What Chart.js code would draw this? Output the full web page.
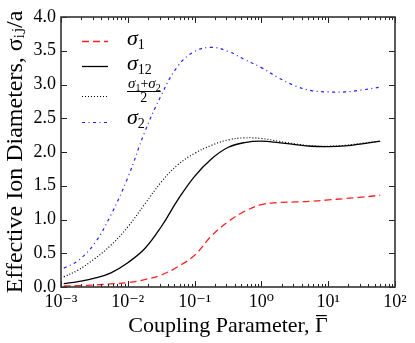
<!DOCTYPE html>
<html>
<head>
<meta charset="utf-8">
<script src="https://cdn.jsdelivr.net/npm/chart.js@4/dist/chart.umd.min.js"></script>
<style>
html, body { margin: 0; padding: 0; background: #fff; }
</style>
</head>
<body>
<canvas id="chart" width="415" height="343"></canvas>
<script>
'use strict';

// coupling parameter (x, log axis)
var gamma = [0.0011, 0.0018, 0.0032, 0.0056, 0.01, 0.018, 0.032, 0.056, 0.1, 0.18,
    0.32, 0.56, 1, 1.8, 3.2, 5.6, 10, 18, 32, 60];

// effective ion diameters
var sigma1 = [0.015, 0.02, 0.03, 0.045, 0.065, 0.11, 0.18, 0.30, 0.47, 0.76,
    0.97, 1.12, 1.22, 1.25, 1.26, 1.27, 1.29, 1.31, 1.33, 1.36];
var sigma12 = [0.05, 0.08, 0.13, 0.21, 0.36, 0.57, 0.90, 1.29, 1.64, 1.90,
    2.07, 2.14, 2.16, 2.14, 2.11, 2.085, 2.08, 2.09, 2.12, 2.16];
var sigmaMean = [0.15, 0.25, 0.42, 0.62, 0.89, 1.23, 1.56, 1.81, 1.98, 2.10,
    2.18, 2.21, 2.20, 2.16, 2.12, 2.09, 2.085, 2.10, 2.13, 2.16];
var sigma2 = [0.28, 0.39, 0.65, 1.07, 1.62, 2.30, 2.85, 3.27, 3.49, 3.55,
    3.49, 3.37, 3.25, 3.10, 2.98, 2.91, 2.89, 2.89, 2.92, 2.96];

var xTicks = [0.001, 0.01, 0.1, 1, 10, 100];
var xTickLabels = ['10\u207B\u00B3', '10\u207B\u00B2', '10\u207B\u00B9', '10\u2070', '10\u00B9', '10\u00B2'];
var yTicks = [0, 0.5, 1, 1.5, 2, 2.5, 3, 3.5, 4];

var serif = "'Liberation Serif', 'DejaVu Serif', serif";
var xTitle = 'Coupling Parameter, \u0393';
var xTitleSize = 22;

function points(ys) {
    return gamma.map(function (g, i) { return { x: g, y: ys[i] }; });
}

function line(label, ys, color, dash, width) {
    return {
        label: label,
        data: points(ys),
        borderColor: color,
        borderDash: dash,
        borderWidth: width,
        pointRadius: 0,
        fill: false,
        tension: 0.4
    };
}

// inward ticks + frame, matplotlib style
var framePlugin = {
    id: 'frame',
    afterDatasetsDraw: function (chart) {
        var ctx = chart.ctx, a = chart.chartArea;
        var xs = chart.scales.x, ys = chart.scales.y;
        ctx.save();
        ctx.strokeStyle = '#222';
        ctx.lineWidth = 1;
        ctx.beginPath();
        xTicks.forEach(function (v, k) {
            var px = Math.round(xs.getPixelForValue(v)) + 0.5;
            ctx.moveTo(px, a.bottom); ctx.lineTo(px, a.bottom - 6);
            ctx.moveTo(px, a.top); ctx.lineTo(px, a.top + 6);
            if (k < xTicks.length - 1) {
                for (var m = 2; m < 10; m++) {
                    var mx = Math.round(xs.getPixelForValue(v * m)) + 0.5;
                    ctx.moveTo(mx, a.bottom); ctx.lineTo(mx, a.bottom - 3);
                    ctx.moveTo(mx, a.top); ctx.lineTo(mx, a.top + 3);
                }
            }
        });
        yTicks.forEach(function (v) {
            var py = Math.round(ys.getPixelForValue(v)) + 0.5;
            ctx.moveTo(a.left, py); ctx.lineTo(a.left + 6, py);
            ctx.moveTo(a.right, py); ctx.lineTo(a.right - 6, py);
        });
        ctx.stroke();
        ctx.lineWidth = 1.6;
        ctx.strokeStyle = '#333';
        ctx.strokeRect(a.left, a.top, a.right - a.left, a.bottom - a.top);

        // bar over the Gamma of the x title
        ctx.font = xTitleSize + 'px ' + serif;
        var total = ctx.measureText(xTitle).width;
        var gw = ctx.measureText('\u0393').width;
        var gx = (xs.left + xs.right) / 2 + total / 2 - gw;
        var ty = xs.bottom - xTitleSize * 1.2 / 2 - 4;
        ctx.fillStyle = '#000';
        ctx.fillRect(gx + 1, Math.round(ty - 11), gw - 2, 1.2);
        ctx.restore();
    }
};

function sigmaText(ctx, x, y, sub, big, small) {
    ctx.font = 'italic ' + big + 'px ' + serif;
    ctx.fillText('\u03C3', x, y);
    var w = ctx.measureText('\u03C3').width;
    ctx.font = small + 'px ' + serif;
    ctx.fillText(sub, x + w, y + big * 0.18);
    return w + ctx.measureText(sub).width;
}

var legendPlugin = {
    id: 'mplLegend',
    afterDraw: function (chart) {
        var ctx = chart.ctx;
        var rows = [41, 66, 96, 122];
        ctx.save();
        chart.data.datasets.forEach(function (ds, i) {
            ctx.strokeStyle = ds.borderColor;
            ctx.lineWidth = ds.borderWidth;
            ctx.setLineDash(ds.borderDash || []);
            ctx.beginPath();
            ctx.moveTo(82, rows[i] + 0.5);
            ctx.lineTo(108, rows[i] + 0.5);
            ctx.stroke();
        });
        ctx.setLineDash([]);
        ctx.fillStyle = '#000';
        ctx.textBaseline = 'alphabetic';
        ctx.textAlign = 'left';
        sigmaText(ctx, 127, 45, '1', 22, 14);
        sigmaText(ctx, 127, 70, '12', 22, 14);
        // (sigma1 + sigma2) / 2
        var x = 128;
        x += sigmaText(ctx, x, 88, '1', 15, 10);
        ctx.font = '14px ' + serif;
        ctx.fillText('+', x, 88);
        x += ctx.measureText('+').width;
        x += sigmaText(ctx, x, 88, '2', 15, 10);
        ctx.fillRect(127, 91, x - 127, 1);
        ctx.font = '14px ' + serif;
        ctx.textAlign = 'center';
        ctx.fillText('2', (127 + x) / 2, 102);
        ctx.textAlign = 'left';
        sigmaText(ctx, 127, 124, '2', 22, 14);
        ctx.restore();
    }
};

new Chart(document.getElementById('chart'), {
    type: 'line',
    data: {
        datasets: [
            line('\u03C3\u2081', sigma1, '#ff2020', [7, 4], 1.3),
            line('\u03C3\u2081\u2082', sigma12, '#000000', [], 1.3),
            line('(\u03C3\u2081+\u03C3\u2082)/2', sigmaMean, '#000000', [1, 2], 1.2),
            line('\u03C3\u2082', sigma2, '#2020ff', [3, 3.5, 1, 3.5], 1.2)
        ]
    },
    options: {
        responsive: false,
        animation: false,
        devicePixelRatio: 1,
        layout: { padding: { top: 17, right: 20, left: 0, bottom: 0 } },
        plugins: {
            legend: { display: false },
            tooltip: { enabled: false }
        },
        scales: {
            x: {
                type: 'logarithmic',
                min: 0.001,
                max: 100,
                afterBuildTicks: function (scale) {
                    scale.ticks = xTicks.map(function (v) { return { value: v }; });
                },
                afterFit: function (scale) { scale.height = 56; },
                grid: { display: false, drawTicks: false },
                border: { display: false },
                ticks: {
                    padding: 4,
                    color: '#000',
                    font: { family: serif, size: 18 },
                    maxRotation: 0,
                    autoSkip: false,
                    callback: function (v) {
                        var k = xTicks.indexOf(v);
                        return k < 0 ? '' : xTickLabels[k];
                    }
                },
                title: {
                    display: true,
                    text: xTitle,
                    color: '#000',
                    font: { family: serif, size: xTitleSize },
                    padding: { top: 0, bottom: 4 }
                }
            },
            y: {
                min: 0,
                max: 4,
                afterBuildTicks: function (scale) {
                    scale.ticks = yTicks.map(function (v) { return { value: v }; });
                },
                afterFit: function (scale) { scale.width = 61; },
                grid: { display: false, drawTicks: false },
                border: { display: false },
                ticks: {
                    padding: 5,
                    color: '#000',
                    font: { family: serif, size: 18 },
                    callback: function (v) { return v.toFixed(1); }
                },
                title: {
                    display: true,
                    text: 'Effective Ion Diameters, \u03C3\u1D62\u2C7C/a',
                    color: '#000',
                    font: { family: serif, size: 24 },
                    padding: { top: 1, bottom: 0 }
                }
            }
        }
    },
    plugins: [framePlugin, legendPlugin]
});
</script>
</body>
</html>
